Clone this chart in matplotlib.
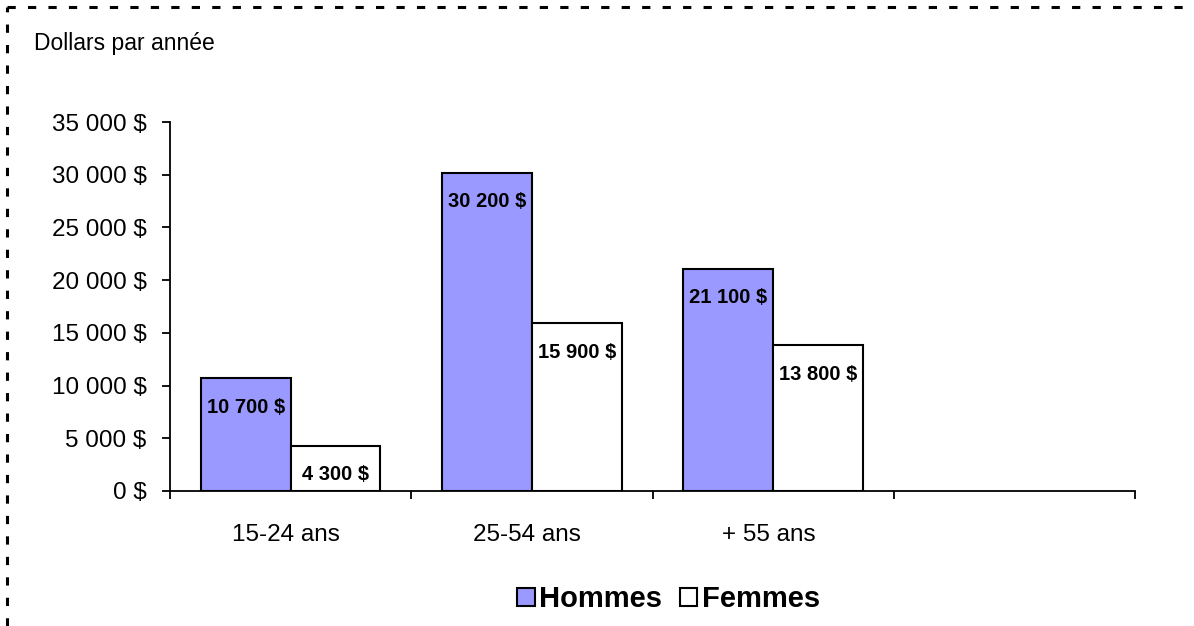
import matplotlib
matplotlib.use("Agg")
import matplotlib.pyplot as plt
from matplotlib.lines import Line2D
from matplotlib.patches import Patch

plt.rcParams['font.family'] = ['Liberation Sans', 'DejaVu Sans']

# data
categories = ['15-24 ans', '25-54 ans', '+ 55 ans', '']
hommes = [10700, 30200, 21100]
femmes = [4300, 15900, 13800]
yticks = [0, 5000, 10000, 15000, 20000, 25000, 30000, 35000]


def dollars(v):
    return '{:,.0f} $'.format(v).replace(',', ' ')


fig = plt.figure(figsize=(11.94, 6.26), dpi=100)
ax = fig.add_axes([0.1424, 0.2157, 0.9506 - 0.1424, 0.8051 - 0.2157])

w = 0.372
x = list(range(len(hommes)))
bh = ax.bar([i - w / 2 for i in x], hommes, w, color='#9999FF',
            edgecolor='black', linewidth=1.5)
bf = ax.bar([i + w / 2 for i in x], femmes, w, color='white',
            edgecolor='black', linewidth=1.5)

for bars, vals in ((bh, hommes), (bf, femmes)):
    for b, v in zip(bars, vals):
        ax.annotate(dollars(v), (b.get_x() + b.get_width() / 2, v),
                    xytext=(0, -21), textcoords='offset points',
                    ha='center', va='center', fontsize=14.5,
                    fontweight='bold')

ax.set_xlim(-0.5, len(categories) - 0.5)
ax.set_ylim(0, 35000)
ax.set_yticks(yticks)
ax.set_yticklabels([dollars(v) for v in yticks], fontsize=17.5)
ax.set_xticks([i + 0.5 for i in range(-1, len(categories))])
ax.set_xticklabels([])
ax.set_xticks([i - 0.02 for i in range(len(categories))], minor=True)
ax.set_xticklabels(categories, minor=True, fontsize=17.5)
ax.tick_params(axis='x', which='minor', length=0, pad=24)
ax.tick_params(axis='x', which='major', length=6, width=1.3, direction='out')
ax.tick_params(axis='y', length=6, width=1.3, direction='out', pad=11)

for s in ('top', 'right'):
    ax.spines[s].set_visible(False)
for s in ('left', 'bottom'):
    ax.spines[s].set_linewidth(1.3)

fig.text(0.0285, 0.930, 'Dollars par année', fontsize=16.5, va='center')

handles = [Patch(facecolor='#9999FF', edgecolor='black', linewidth=1.5, label='Hommes'),
           Patch(facecolor='white', edgecolor='black', linewidth=1.5, label='Femmes')]
fig.legend(handles=handles, loc='center', bbox_to_anchor=(0.56, 0.043), ncol=2,
           frameon=False, prop={'size': 21, 'weight': 'bold'},
           handlelength=0.6, handleheight=0.6, handletextpad=0.15,
           columnspacing=0.6)

# dashed frame (only top and left edges visible in the reference)
fig.add_artist(Line2D([0.006, 1.0], [0.989, 0.989], transform=fig.transFigure,
                      color='black', linewidth=2.2, dashes=(2.7, 4)))
fig.add_artist(Line2D([0.006, 0.006], [0.0, 0.989], transform=fig.transFigure,
                      color='black', linewidth=2.2, dashes=(2.7, 4)))

fig.savefig('out.png', dpi=100)
